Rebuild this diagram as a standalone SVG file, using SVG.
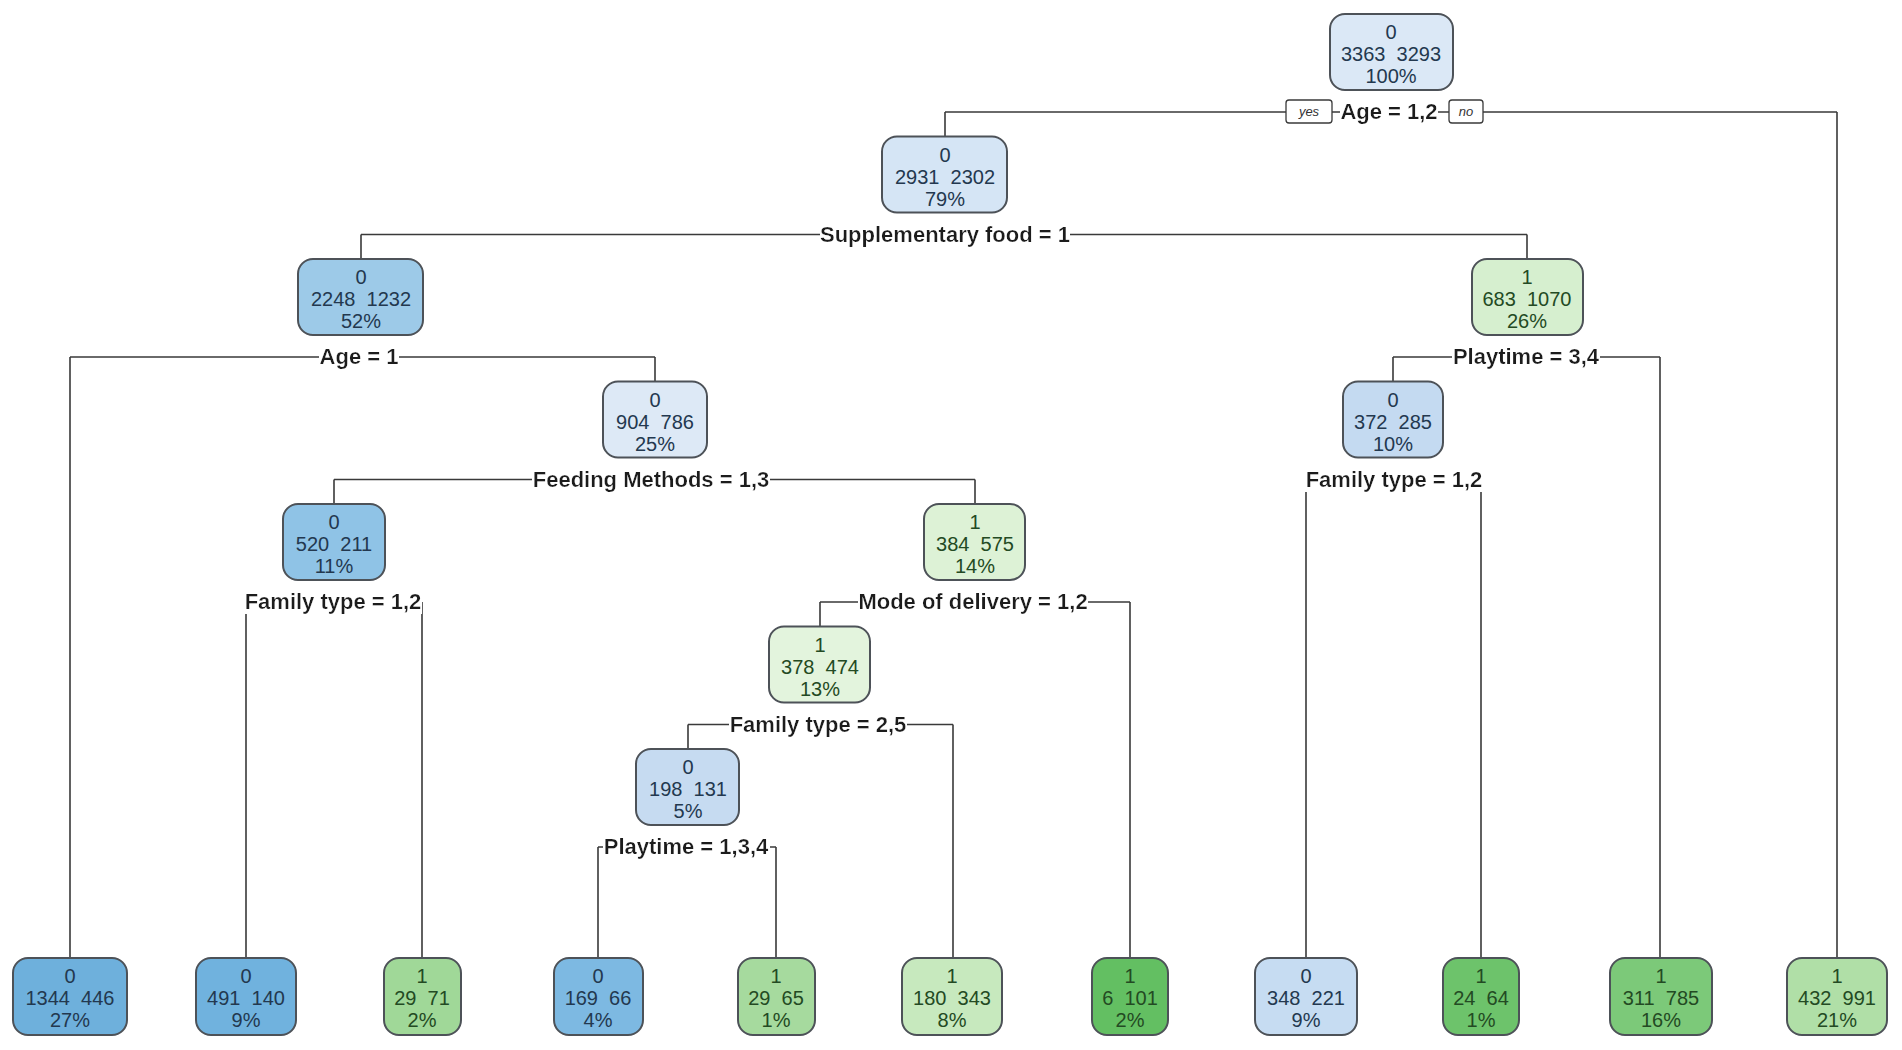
<svg xmlns="http://www.w3.org/2000/svg" width="1902" height="1050" viewBox="0 0 1902 1050">
<style>
.bg{fill:#ffffff}
.c{fill:none;stroke:#3a3a3a;stroke-width:1.6}
.box{stroke:#4d5258;stroke-width:2}
.nt{font-family:"Liberation Sans",Arial,sans-serif;font-size:20px;text-anchor:middle;white-space:pre}
.tb{fill:#23384f}
.tg{fill:#234a23}
.sl{font-family:"Liberation Sans",Arial,sans-serif;font-size:22px;font-weight:bold;text-anchor:middle;fill:#1a1a1a;filter:url(#wbg)}
.yn{fill:#ffffff;stroke:#3a3a3a;stroke-width:1.3}
.ynt{font-family:"Liberation Sans",Arial,sans-serif;font-size:13px;font-style:italic;text-anchor:middle;fill:#333}
</style>
<defs>
<filter id="wbg" x="0" y="0" width="1" height="1">
<feFlood flood-color="#ffffff"/>
<feComposite in="SourceGraphic"/>
</filter>
</defs>
<rect class="bg" x="0" y="0" width="1902" height="1050"/>
<g id="connectors">
<path class="c" d="M945 112H1837M945 112V136.5M1837 112V958"/>
<path class="c" d="M361 234.5H1527M361 234.5V259M1527 234.5V259"/>
<path class="c" d="M70 357H655M70 357V958M655 357V381.5"/>
<path class="c" d="M1393 357H1660M1393 357V381.5M1660 357V958"/>
<path class="c" d="M334 479.5H975M334 479.5V504M975 479.5V504"/>
<path class="c" d="M1306 479.5H1481M1306 479.5V958M1481 479.5V958"/>
<path class="c" d="M246 602H422M246 602V958M422 602V958"/>
<path class="c" d="M820 602H1130M820 602V626.5M1130 602V958"/>
<path class="c" d="M688 724.5H953M688 724.5V749M953 724.5V958"/>
<path class="c" d="M598 847H776M598 847V958M776 847V958"/>
</g>
<g id="split-labels">
<rect class="yn" x="1286" y="100" width="46" height="23" rx="3"/>
<text class="ynt" x="1309" y="116">yes</text>
<rect class="yn" x="1449" y="100" width="34" height="23" rx="3"/>
<text class="ynt" x="1466" y="116">no</text>
<text class="sl" x="1389" y="119">Age = 1,2</text>
<text class="sl" x="945" y="241.5">Supplementary food = 1</text>
<text class="sl" x="359" y="364">Age = 1</text>
<text class="sl" x="1526" y="364">Playtime = 3,4</text>
<text class="sl" x="651" y="486.5">Feeding Methods = 1,3</text>
<text class="sl" x="1394" y="486.5">Family type = 1,2</text>
<text class="sl" x="333" y="609">Family type = 1,2</text>
<text class="sl" x="973" y="609">Mode of delivery = 1,2</text>
<text class="sl" x="818" y="731.5">Family type = 2,5</text>
<text class="sl" x="686" y="854">Playtime = 1,3,4</text>
</g>
<g id="node1"><rect class="box" x="1330" y="14" width="123" height="76" rx="15" fill="#dbe8f6"/><text class="nt tb"><tspan x="1391" y="39">0</tspan><tspan x="1391" y="61">3363  3293</tspan><tspan x="1391" y="83">100%</tspan></text></g>
<g id="node2"><rect class="box" x="882" y="136.5" width="125" height="76" rx="15" fill="#d5e5f5"/><text class="nt tb"><tspan x="945" y="161.5">0</tspan><tspan x="945" y="183.5">2931  2302</tspan><tspan x="945" y="205.5">79%</tspan></text></g>
<g id="node3"><rect class="box" x="298" y="259" width="125" height="76" rx="15" fill="#9dcae8"/><text class="nt tb"><tspan x="361" y="284">0</tspan><tspan x="361" y="306">2248  1232</tspan><tspan x="361" y="328">52%</tspan></text></g>
<g id="node4"><rect class="box" x="1472" y="259" width="111" height="76" rx="15" fill="#d6efcf"/><text class="nt tg"><tspan x="1527" y="284">1</tspan><tspan x="1527" y="306">683  1070</tspan><tspan x="1527" y="328">26%</tspan></text></g>
<g id="node5"><rect class="box" x="603" y="381.5" width="104" height="76" rx="15" fill="#dde9f6"/><text class="nt tb"><tspan x="655" y="406.5">0</tspan><tspan x="655" y="428.5">904  786</tspan><tspan x="655" y="450.5">25%</tspan></text></g>
<g id="node6"><rect class="box" x="1343" y="381.5" width="100" height="76" rx="15" fill="#c4daf1"/><text class="nt tb"><tspan x="1393" y="406.5">0</tspan><tspan x="1393" y="428.5">372  285</tspan><tspan x="1393" y="450.5">10%</tspan></text></g>
<g id="node7"><rect class="box" x="283" y="504" width="102" height="76" rx="15" fill="#8fc3e6"/><text class="nt tb"><tspan x="334" y="529">0</tspan><tspan x="334" y="551">520  211</tspan><tspan x="334" y="573">11%</tspan></text></g>
<g id="node8"><rect class="box" x="924" y="504" width="101" height="76" rx="15" fill="#ddf2d6"/><text class="nt tg"><tspan x="975" y="529">1</tspan><tspan x="975" y="551">384  575</tspan><tspan x="975" y="573">14%</tspan></text></g>
<g id="node9"><rect class="box" x="769" y="626.5" width="101" height="76" rx="15" fill="#e3f4dd"/><text class="nt tg"><tspan x="820" y="651.5">1</tspan><tspan x="820" y="673.5">378  474</tspan><tspan x="820" y="695.5">13%</tspan></text></g>
<g id="node10"><rect class="box" x="636" y="749" width="103" height="76" rx="15" fill="#c6dbf1"/><text class="nt tb"><tspan x="688" y="774">0</tspan><tspan x="688" y="796">198  131</tspan><tspan x="688" y="818">5%</tspan></text></g>
<g id="leaf1"><rect class="box" x="13" y="958" width="114" height="77" rx="15" fill="#6eb0dc"/><text class="nt tb"><tspan x="70" y="983">0</tspan><tspan x="70" y="1005">1344  446</tspan><tspan x="70" y="1027">27%</tspan></text></g>
<g id="leaf2"><rect class="box" x="196" y="958" width="100" height="77" rx="15" fill="#70b2de"/><text class="nt tb"><tspan x="246" y="983">0</tspan><tspan x="246" y="1005">491  140</tspan><tspan x="246" y="1027">9%</tspan></text></g>
<g id="leaf3"><rect class="box" x="384" y="958" width="77" height="77" rx="15" fill="#a0d898"/><text class="nt tg"><tspan x="422" y="983">1</tspan><tspan x="422" y="1005">29  71</tspan><tspan x="422" y="1027">2%</tspan></text></g>
<g id="leaf4"><rect class="box" x="554" y="958" width="89" height="77" rx="15" fill="#7db9e2"/><text class="nt tb"><tspan x="598" y="983">0</tspan><tspan x="598" y="1005">169  66</tspan><tspan x="598" y="1027">4%</tspan></text></g>
<g id="leaf5"><rect class="box" x="738" y="958" width="77" height="77" rx="15" fill="#a6da9e"/><text class="nt tg"><tspan x="776" y="983">1</tspan><tspan x="776" y="1005">29  65</tspan><tspan x="776" y="1027">1%</tspan></text></g>
<g id="leaf6"><rect class="box" x="902" y="958" width="100" height="77" rx="15" fill="#c7e9be"/><text class="nt tg"><tspan x="952" y="983">1</tspan><tspan x="952" y="1005">180  343</tspan><tspan x="952" y="1027">8%</tspan></text></g>
<g id="leaf7"><rect class="box" x="1092" y="958" width="76" height="77" rx="15" fill="#63bf62"/><text class="nt tg"><tspan x="1130" y="983">1</tspan><tspan x="1130" y="1005">6  101</tspan><tspan x="1130" y="1027">2%</tspan></text></g>
<g id="leaf8"><rect class="box" x="1255" y="958" width="102" height="77" rx="15" fill="#c6dcf2"/><text class="nt tb"><tspan x="1306" y="983">0</tspan><tspan x="1306" y="1005">348  221</tspan><tspan x="1306" y="1027">9%</tspan></text></g>
<g id="leaf9"><rect class="box" x="1443" y="958" width="76" height="77" rx="15" fill="#6dc36b"/><text class="nt tg"><tspan x="1481" y="983">1</tspan><tspan x="1481" y="1005">24  64</tspan><tspan x="1481" y="1027">1%</tspan></text></g>
<g id="leaf10"><rect class="box" x="1610" y="958" width="102" height="77" rx="15" fill="#7cc979"/><text class="nt tg"><tspan x="1661" y="983">1</tspan><tspan x="1661" y="1005">311  785</tspan><tspan x="1661" y="1027">16%</tspan></text></g>
<g id="leaf11"><rect class="box" x="1787" y="958" width="100" height="77" rx="15" fill="#b0dfa7"/><text class="nt tg"><tspan x="1837" y="983">1</tspan><tspan x="1837" y="1005">432  991</tspan><tspan x="1837" y="1027">21%</tspan></text></g>
</svg>
